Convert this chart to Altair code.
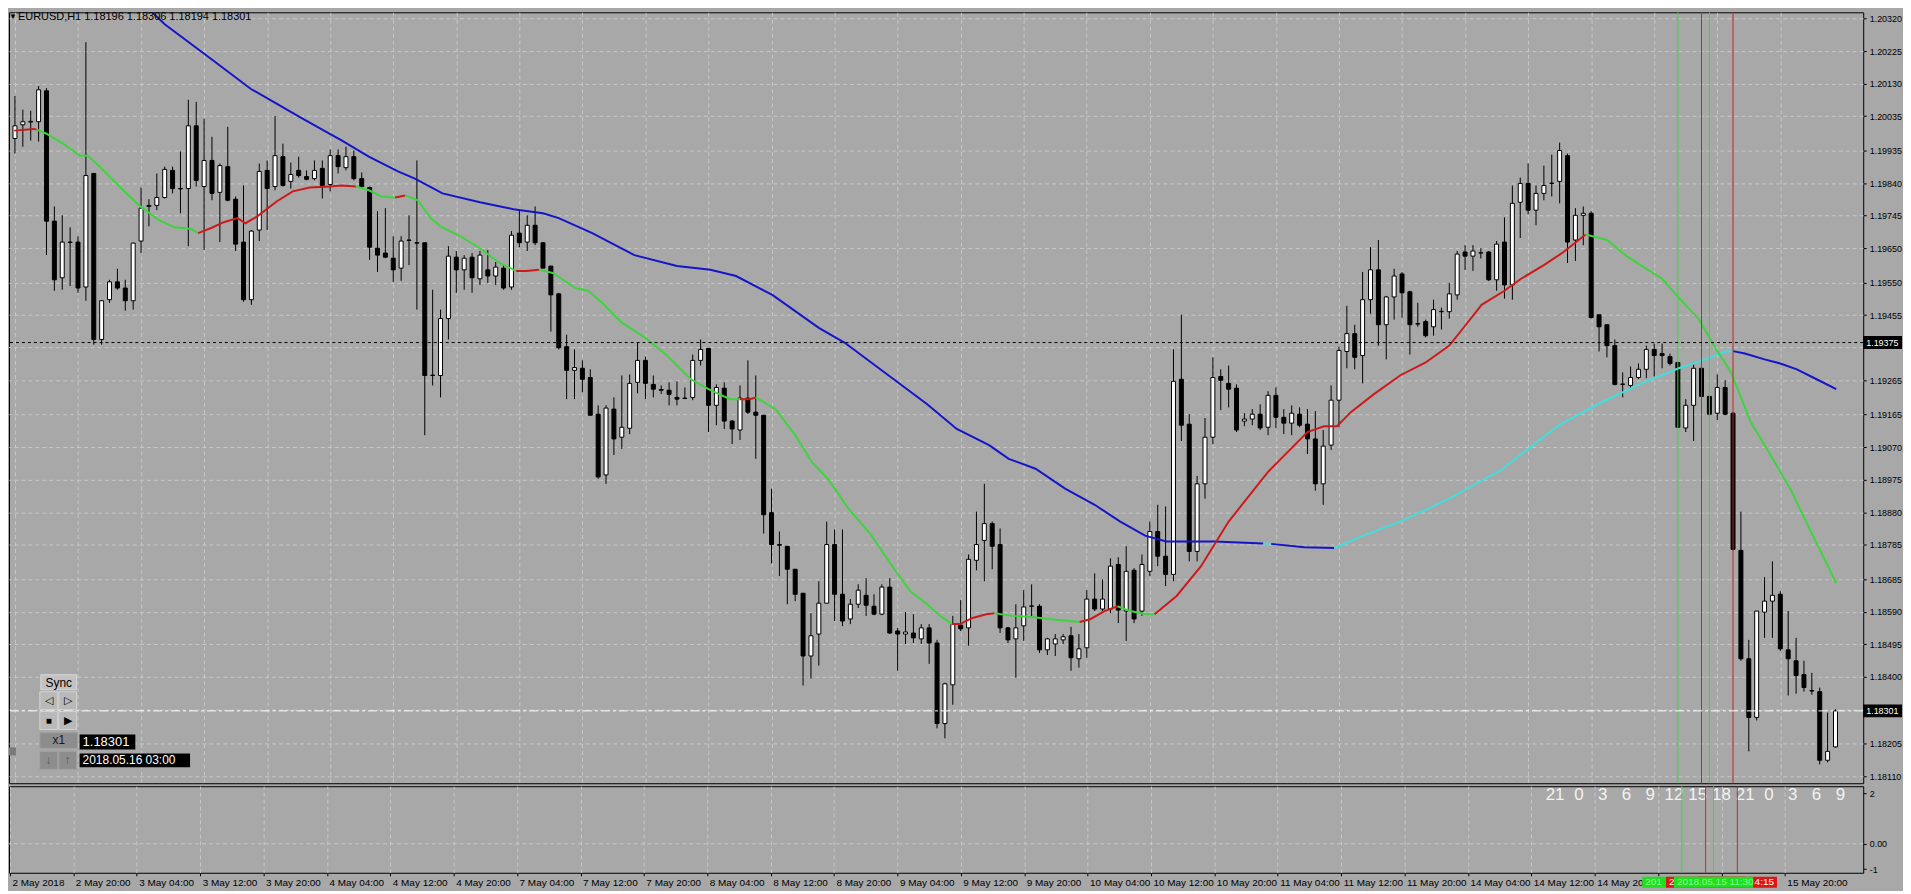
import json
import altair as alt
import pandas as pd

FONT = "Liberation Sans"
BG = "#a8a8a8"
GRID = "#c8c8c8"

# ---------------- data ----------------
opens = [
    1.19970, 1.20010, 1.20018, 1.20019, 1.20109, 1.19729, 1.19564, 1.19668, 1.19668, 1.19537,
    1.19868, 1.19384, 1.19500, 1.19552, 1.19534, 1.19497, 1.19671, 1.19772, 1.19775, 1.19798,
    1.19877, 1.19824, 1.19824, 1.20007, 1.19830, 1.19906, 1.19813, 1.19888, 1.19793, 1.19668,
    1.19500, 1.19703, 1.19877, 1.19830, 1.19917, 1.19845, 1.19877, 1.19859, 1.19853, 1.19883,
    1.19836, 1.19920, 1.19885, 1.19917, 1.19853, 1.19827, 1.19650, 1.19636, 1.19621, 1.19592,
    1.19674, 1.19666, 1.19666, 1.19279, 1.19279, 1.19445, 1.19624, 1.19587, 1.19624, 1.19561,
    1.19587, 1.19569, 1.19592, 1.19537, 1.19694, 1.19668, 1.19717, 1.19666, 1.19598, 1.19517,
    1.19363, 1.19294, 1.19300, 1.19273, 1.19166, 1.18989, 1.19181, 1.19099, 1.19125, 1.19259,
    1.19323, 1.19253, 1.19238, 1.19236, 1.19215, 1.19213, 1.19215, 1.19323, 1.19358, 1.19192,
    1.19242, 1.19146, 1.19120, 1.19213, 1.19172, 1.19163, 1.18879, 1.18786, 1.18781, 1.18714,
    1.18644, 1.18461, 1.18525, 1.18615, 1.18786, 1.18641, 1.18569, 1.18612, 1.18638, 1.18606,
    1.18583, 1.18662, 1.18534, 1.18525, 1.18528, 1.18511, 1.18543, 1.18499, 1.18264, 1.18377,
    1.18551, 1.18543, 1.18740, 1.18798, 1.18847, 1.18786, 1.18543, 1.18511, 1.18549, 1.18606,
    1.18606, 1.18479, 1.18496, 1.18508, 1.18520, 1.18453, 1.18485, 1.18627, 1.18598, 1.18598,
    1.18728, 1.18592, 1.18711, 1.18592, 1.18708, 1.18824, 1.18752, 1.18699, 1.19268, 1.19137,
    1.18766, 1.18963, 1.19099, 1.19276, 1.19256, 1.19242, 1.19146, 1.19152, 1.19166, 1.19128,
    1.19221, 1.19157, 1.19140, 1.19166, 1.19137, 1.19094, 1.18963, 1.19076, 1.19207, 1.19349,
    1.19401, 1.19337, 1.19500, 1.19587, 1.19427, 1.19508, 1.19575, 1.19523, 1.19430, 1.19436,
    1.19421, 1.19465, 1.19465, 1.19514, 1.19639, 1.19627, 1.19636, 1.19639, 1.19558, 1.19668,
    1.19543, 1.19784, 1.19839, 1.19761, 1.19810, 1.19839, 1.19845, 1.19920, 1.19674, 1.19746,
    1.19752, 1.19456, 1.19427, 1.19366, 1.19253, 1.19250, 1.19273, 1.19297, 1.19355, 1.19343,
    1.19334, 1.19317, 1.19126, 1.19192, 1.19300, 1.19218, 1.19169, 1.19244, 1.19169, 1.18769,
    1.18453, 1.18282, 1.18589, 1.18621, 1.18641, 1.18479, 1.18447, 1.18407, 1.18360, 1.18357,
    1.18157, 1.18196,
]
highs = [
    1.20094, 1.20054, 1.20051, 1.20123, 1.20117, 1.19772, 1.19746, 1.19711, 1.19685, 1.20251,
    1.19870, 1.19498, 1.19558, 1.19590, 1.19558, 1.19666, 1.19827, 1.19793, 1.19868, 1.19888,
    1.19888, 1.19932, 1.20083, 1.20077, 1.20028, 1.19975, 1.19897, 1.20004, 1.19801, 1.19833,
    1.19703, 1.19897, 1.19906, 1.20036, 1.19955, 1.19900, 1.19917, 1.19877, 1.19906, 1.19906,
    1.19938, 1.19938, 1.19946, 1.19935, 1.19871, 1.19830, 1.19758, 1.19767, 1.19685, 1.19685,
    1.19746, 1.19906, 1.19666, 1.19529, 1.19471, 1.19656, 1.19642, 1.19630, 1.19636, 1.19642,
    1.19645, 1.19610, 1.19601, 1.19700, 1.19764, 1.19746, 1.19772, 1.19668, 1.19598, 1.19520,
    1.19398, 1.19355, 1.19323, 1.19297, 1.19192, 1.19192, 1.19215, 1.19279, 1.19282, 1.19375,
    1.19334, 1.19279, 1.19250, 1.19259, 1.19262, 1.19244, 1.19340, 1.19384, 1.19358, 1.19253,
    1.19259, 1.19149, 1.19250, 1.19323, 1.19279, 1.19163, 1.18949, 1.18824, 1.18781, 1.18714,
    1.18644, 1.18586, 1.18679, 1.18853, 1.18830, 1.18830, 1.18627, 1.18670, 1.18688, 1.18641,
    1.18670, 1.18688, 1.18543, 1.18589, 1.18583, 1.18554, 1.18554, 1.18508, 1.18383, 1.18578,
    1.18624, 1.18757, 1.18882, 1.18963, 1.18853, 1.18833, 1.18546, 1.18612, 1.18653, 1.18670,
    1.18612, 1.18514, 1.18525, 1.18525, 1.18546, 1.18525, 1.18653, 1.18702, 1.18685, 1.18746,
    1.18749, 1.18781, 1.18717, 1.18757, 1.18853, 1.18902, 1.18897, 1.19355, 1.19456, 1.19166,
    1.18986, 1.19155, 1.19332, 1.19297, 1.19308, 1.19253, 1.19169, 1.19181, 1.19195, 1.19233,
    1.19244, 1.19181, 1.19192, 1.19186, 1.19181, 1.19175, 1.19120, 1.19250, 1.19363, 1.19482,
    1.19427, 1.19581, 1.19653, 1.19674, 1.19511, 1.19590, 1.19581, 1.19526, 1.19491, 1.19442,
    1.19500, 1.19477, 1.19549, 1.19642, 1.19659, 1.19659, 1.19650, 1.19642, 1.19671, 1.19740,
    1.19833, 1.19856, 1.19897, 1.19833, 1.19891, 1.19923, 1.19958, 1.19926, 1.19767, 1.19772,
    1.19758, 1.19456, 1.19427, 1.19384, 1.19288, 1.19305, 1.19314, 1.19366, 1.19372, 1.19372,
    1.19343, 1.19317, 1.19210, 1.19311, 1.19302, 1.19220, 1.19282, 1.19265, 1.19172, 1.18882,
    1.18508, 1.18592, 1.18691, 1.18737, 1.18650, 1.18592, 1.18514, 1.18447, 1.18412, 1.18369,
    1.18296, 1.18306,
]
lows = [
    1.19926, 1.19946, 1.19964, 1.19961, 1.19630, 1.19526, 1.19529, 1.19540, 1.19520, 1.19497,
    1.19369, 1.19369, 1.19491, 1.19529, 1.19468, 1.19471, 1.19636, 1.19714, 1.19761, 1.19795,
    1.19810, 1.19752, 1.19656, 1.19830, 1.19645, 1.19790, 1.19668, 1.19787, 1.19642, 1.19494,
    1.19485, 1.19671, 1.19703, 1.19819, 1.19830, 1.19824, 1.19856, 1.19848, 1.19848, 1.19795,
    1.19816, 1.19868, 1.19877, 1.19848, 1.19824, 1.19616, 1.19581, 1.19621, 1.19552, 1.19555,
    1.19601, 1.19471, 1.19105, 1.19250, 1.19215, 1.19384, 1.19520, 1.19529, 1.19520, 1.19543,
    1.19549, 1.19543, 1.19529, 1.19529, 1.19653, 1.19642, 1.19659, 1.19592, 1.19407, 1.19355,
    1.19210, 1.19210, 1.19230, 1.19163, 1.18978, 1.18963, 1.19047, 1.19065, 1.19108, 1.19227,
    1.19210, 1.19215, 1.19225, 1.19192, 1.19192, 1.19210, 1.19207, 1.19308, 1.19114, 1.19134,
    1.19123, 1.19079, 1.19091, 1.19166, 1.19036, 1.18818, 1.18731, 1.18694, 1.18612, 1.18621,
    1.18375, 1.18395, 1.18433, 1.18615, 1.18563, 1.18548, 1.18554, 1.18601, 1.18578, 1.18580,
    1.18580, 1.18525, 1.18418, 1.18496, 1.18499, 1.18496, 1.18438, 1.18250, 1.18221, 1.18319,
    1.18534, 1.18491, 1.18711, 1.18679, 1.18714, 1.18528, 1.18499, 1.18398, 1.18505, 1.18572,
    1.18470, 1.18464, 1.18461, 1.18496, 1.18418, 1.18427, 1.18456, 1.18592, 1.18592, 1.18586,
    1.18557, 1.18505, 1.18557, 1.18578, 1.18694, 1.18723, 1.18665, 1.18679, 1.19088, 1.18737,
    1.18737, 1.18920, 1.19079, 1.19178, 1.19186, 1.19114, 1.19131, 1.19134, 1.19120, 1.19105,
    1.19126, 1.19108, 1.19105, 1.19128, 1.19050, 1.18943, 1.18902, 1.19062, 1.19128, 1.19300,
    1.19297, 1.19256, 1.19459, 1.19366, 1.19326, 1.19442, 1.19448, 1.19340, 1.19421, 1.19390,
    1.19395, 1.19413, 1.19445, 1.19500, 1.19587, 1.19584, 1.19620, 1.19555, 1.19526, 1.19503,
    1.19500, 1.19680, 1.19749, 1.19717, 1.19790, 1.19801, 1.19781, 1.19607, 1.19613, 1.19659,
    1.19445, 1.19349, 1.19332, 1.19250, 1.19215, 1.19239, 1.19268, 1.19271, 1.19276, 1.19300,
    1.19308, 1.19126, 1.19114, 1.19088, 1.19212, 1.19163, 1.19149, 1.19163, 1.18769, 1.18447,
    1.18183, 1.18273, 1.18514, 1.18514, 1.18476, 1.18346, 1.18351, 1.18357, 1.18348, 1.18145,
    1.18151, 1.18194,
]
closes = [
    1.20007, 1.20019, 1.20020, 1.20112, 1.19729, 1.19558, 1.19668, 1.19667, 1.19534, 1.19862,
    1.19384, 1.19497, 1.19552, 1.19534, 1.19497, 1.19665, 1.19767, 1.19775, 1.19798, 1.19880,
    1.19824, 1.19823, 1.20007, 1.19848, 1.19906, 1.19810, 1.19891, 1.19790, 1.19662, 1.19500,
    1.19700, 1.19874, 1.19824, 1.19920, 1.19833, 1.19865, 1.19862, 1.19851, 1.19877, 1.19833,
    1.19920, 1.19888, 1.19917, 1.19853, 1.19830, 1.19653, 1.19630, 1.19624, 1.19587, 1.19671,
    1.19673, 1.19665, 1.19279, 1.19280, 1.19445, 1.19627, 1.19587, 1.19621, 1.19564, 1.19630,
    1.19569, 1.19595, 1.19534, 1.19688, 1.19666, 1.19717, 1.19666, 1.19592, 1.19514, 1.19360,
    1.19294, 1.19302, 1.19268, 1.19163, 1.18983, 1.19184, 1.19094, 1.19128, 1.19256, 1.19323,
    1.19256, 1.19239, 1.19236, 1.19224, 1.19210, 1.19212, 1.19323, 1.19355, 1.19192, 1.19244,
    1.19146, 1.19123, 1.19213, 1.19172, 1.19163, 1.18873, 1.18786, 1.18784, 1.18714, 1.18641,
    1.18461, 1.18520, 1.18615, 1.18786, 1.18641, 1.18563, 1.18612, 1.18653, 1.18609, 1.18583,
    1.18662, 1.18528, 1.18525, 1.18531, 1.18514, 1.18543, 1.18499, 1.18264, 1.18380, 1.18554,
    1.18540, 1.18743, 1.18786, 1.18847, 1.18781, 1.18543, 1.18508, 1.18543, 1.18604, 1.18607,
    1.18479, 1.18511, 1.18511, 1.18517, 1.18456, 1.18482, 1.18627, 1.18598, 1.18627, 1.18723,
    1.18595, 1.18708, 1.18569, 1.18728, 1.18824, 1.18752, 1.18699, 1.19262, 1.19134, 1.18766,
    1.18963, 1.19099, 1.19273, 1.19265, 1.19239, 1.19120, 1.19152, 1.19166, 1.19126, 1.19221,
    1.19157, 1.19140, 1.19169, 1.19134, 1.19094, 1.18963, 1.19073, 1.19207, 1.19352, 1.19401,
    1.19332, 1.19500, 1.19587, 1.19427, 1.19508, 1.19569, 1.19520, 1.19427, 1.19429, 1.19395,
    1.19471, 1.19466, 1.19517, 1.19633, 1.19627, 1.19642, 1.19637, 1.19558, 1.19662, 1.19543,
    1.19781, 1.19839, 1.19761, 1.19810, 1.19833, 1.19840, 1.19935, 1.19668, 1.19746, 1.19752,
    1.19448, 1.19421, 1.19366, 1.19253, 1.19254, 1.19273, 1.19297, 1.19355, 1.19337, 1.19337,
    1.19314, 1.19128, 1.19192, 1.19300, 1.19218, 1.19166, 1.19244, 1.19166, 1.18772, 1.18453,
    1.18282, 1.18592, 1.18621, 1.18638, 1.18482, 1.18453, 1.18404, 1.18369, 1.18359, 1.18157,
    1.18183, 1.18301,
]

# time axis: one label every 8 hourly bars (bar 0 = 2 May 2018 12:00);
# labels hidden behind the vertical-line tags are left empty
time_tick_bars = list(range(0, 232, 8))
time_tick_labels = [
    "2 May 2018", "2 May 20:00", "3 May 04:00", "3 May 12:00", "3 May 20:00",
    "4 May 04:00", "4 May 12:00", "4 May 20:00", "7 May 04:00", "7 May 12:00",
    "7 May 20:00", "8 May 04:00", "8 May 12:00", "8 May 20:00", "9 May 04:00",
    "9 May 12:00", "9 May 20:00", "10 May 04:00", "10 May 12:00", "10 May 20:00",
    "11 May 04:00", "11 May 12:00", "11 May 20:00", "14 May 04:00", "14 May 12:00",
    "14 May 20:", "", "", "15 May 20:00",
]

# price labels on the right axis (1.19360 lies under the 1.19375 marker box)
price_ticks = [
    1.20320, 1.20225, 1.20130, 1.20035, 1.19935, 1.19840, 1.19745, 1.19650,
    1.19550, 1.19455, 1.19265, 1.19165, 1.19070, 1.18975, 1.18880,
    1.18785, 1.18685, 1.18590, 1.18495, 1.18400, 1.18305, 1.18205, 1.18110,
]
hidden_grid_prices = [1.19360]

hour_bars = [195, 198, 201, 204, 207, 210, 213, 216, 219, 222, 225, 228, 231]
hour_labels = ["21", "0", "3", "6", "9", "12", "15", "18", "21", "0", "3", "6", "9"]

lower_ticks = [2, 0, -1]

# fast moving average: segments (colour, [(bar, price), ...])
GREEN = "#3fd43f"
RED = "#cc1a1a"
BLUE = "#1515c8"
CYAN = "#44dddd"
fast_segments = [
    (RED, [(-0.1, 1.19993), (2.4, 1.19998), (2.75, 1.19996)]),
    (GREEN, [(2.75, 1.19996), (4, 1.19984), (6.1, 1.19955), (8.25, 1.19920), (9.25, 1.19920),
             (10.75, 1.19888), (13.25, 1.19830), (15.75, 1.19775), (18.25, 1.19732),
             (20.25, 1.19711), (22.4, 1.19706), (23.25, 1.19694)]),
    (RED, [(23.25, 1.19694), (24.9, 1.19709), (26.5, 1.19726), (28.25, 1.19738), (29.25, 1.19723),
           (30.75, 1.19743), (33.25, 1.19787), (35.25, 1.19816), (37.4, 1.19827), (39.9, 1.19830),
           (41.5, 1.19833), (43.25, 1.19830)]),
    (GREEN, [(43.25, 1.19830), (44.9, 1.19819), (46.5, 1.19801), (48.25, 1.19798)]),
    (RED, [(48.25, 1.19798), (49.5, 1.19804)]),
    (GREEN, [(49.5, 1.19804), (51.1, 1.19790), (52.75, 1.19738), (54, 1.19714), (56.5, 1.19685),
             (59, 1.19650), (61.5, 1.19607), (63.6, 1.19584)]),
    (RED, [(63.6, 1.19584), (64.9, 1.19584), (66.5, 1.19587)]),
    (GREEN, [(66.5, 1.19587), (68.25, 1.19578), (71.1, 1.19534), (72.75, 1.19526), (74.5, 1.19491),
             (77, 1.19433), (79.9, 1.19390), (82.75, 1.19337), (85.75, 1.19268), (88.25, 1.19236),
             (90.75, 1.19210), (92, 1.19210)]),
    (RED, [(92, 1.19210), (93.25, 1.19210), (94, 1.19215)]),
    (GREEN, [(94, 1.19215), (96.1, 1.19186), (96.5, 1.19181), (99, 1.19105), (101.1, 1.19027),
             (103.25, 1.18975), (105.75, 1.18891), (108.6, 1.18815), (111.5, 1.18717),
             (113.6, 1.18650), (115.75, 1.18612), (117.4, 1.18578), (118.9, 1.18554)]),
    (RED, [(118.9, 1.18554), (119.9, 1.18554), (121.5, 1.18572), (123.25, 1.18583), (124.25, 1.18586)]),
    (GREEN, [(124.25, 1.18586), (126.5, 1.18578), (129, 1.18575), (132.4, 1.18566), (135.1, 1.18560)]),
    (RED, [(135.1, 1.18560), (136.5, 1.18569), (138.25, 1.18592), (139.9, 1.18606)]),
    (GREEN, [(139.9, 1.18606), (141.5, 1.18592), (143.6, 1.18583), (144.6, 1.18583)]),
    (RED, [(144.6, 1.18583), (147.4, 1.18636), (150.5, 1.18723), (154, 1.18853), (159, 1.18998),
           (164, 1.19114), (166.1, 1.19131), (167.75, 1.19131), (169.5, 1.19172), (172.4, 1.19224),
           (175.75, 1.19279), (179, 1.19317), (182, 1.19366), (184, 1.19424), (186.1, 1.19485),
           (189, 1.19526), (191.1, 1.19561), (194, 1.19601), (196.5, 1.19639), (199.3, 1.19690)]),
    (GREEN, [(199.3, 1.19690), (202, 1.19674), (204.5, 1.19627), (207, 1.19590), (209, 1.19561),
             (211.1, 1.19506), (213.6, 1.19445), (215.75, 1.19360), (217.75, 1.19288),
             (220.25, 1.19143), (222.75, 1.19047), (225.25, 1.18949), (227.75, 1.18830),
             (231.1, 1.18673)]),
]

# slow moving average
slow_segments = [
    (BLUE, [(16.4, 1.20361), (19, 1.20303), (24.9, 1.20202), (29.9, 1.20115), (33.25, 1.20071),
            (36.1, 1.20033), (39.9, 1.19984), (41.5, 1.19964), (44.9, 1.19917), (48.6, 1.19874),
            (50.75, 1.19853), (54.25, 1.19810), (59, 1.19784), (63.25, 1.19764), (67, 1.19752),
            (69, 1.19738), (73.25, 1.19694), (78.6, 1.19630), (84, 1.19598), (88.25, 1.19587),
            (91.5, 1.19569), (96.1, 1.19514), (102, 1.19418), (105.25, 1.19375), (111.5, 1.19268),
            (115.75, 1.19195), (119.5, 1.19123), (123.6, 1.19076), (126.1, 1.19036),
            (129.5, 1.19007), (133.25, 1.18949), (137, 1.18902), (140.25, 1.18853),
            (143.4, 1.18812), (146.1, 1.18795), (152.25, 1.18795), (158.4, 1.18789)]),
    (CYAN, [(158.4, 1.18789), (159.4, 1.18788)]),
    (BLUE, [(159.4, 1.18788), (163.6, 1.18778), (167.4, 1.18776)]),
    (CYAN, [(167.4, 1.18776), (171.1, 1.18812), (175.75, 1.18853), (182, 1.18920), (188.6, 1.19004),
            (192, 1.19065), (196.1, 1.19137), (201.1, 1.19198), (206.1, 1.19253), (211.1, 1.19300),
            (214.5, 1.19326), (217, 1.19349), (218, 1.19350)]),
    (BLUE, [(218, 1.19350), (219.5, 1.19343), (222, 1.19326), (224, 1.19314), (226.1, 1.19297),
            (228.6, 1.19268), (231.1, 1.19239)]),
]

# vertical lines (drawn in this order) and the visible part of their time tags
vline_bars = [211, 214, 218, 215]
vline_colors = ["#33dd33", "#cc2222", "#cc2222", "#33dd33"]
vline_fill = ["#1fe01f", "#e01414", "#e01414", "#1fe01f"]
vline_text = ["201", "2", "4:15", "2018.05.15 11:30"]
vline_text_color = ["#8cff8c", "white", "white", "#8cff8c"]
vline_text_side = ["left", "left", "right", "left"]

hline_price = 1.19375
bid_price = 1.18301
header = "EURUSD,H1  1.18196 1.18306 1.18194 1.18301"

# ---------------- build ----------------
N = len(opens)
candles = pd.DataFrame({"bar": list(range(N)), "open": opens, "high": highs,
                        "low": lows, "close": closes})
candles["body"] = ["white" if c >= o else "black" for o, c in zip(opens, closes)]

x_scale = alt.Scale(domain=[-0.1255, 233.887], nice=False, zero=False)
y_scale = alt.Scale(domain=[1.18090, 1.20338], nice=False, zero=False)
yl_scale = alt.Scale(domain=[-1.14, 2.27], nice=False, zero=False)

main_x_axis = alt.Axis(values=time_tick_bars, labels=False, ticks=False, domain=False,
                       grid=True, gridColor=GRID, gridDash=[4, 3], title=None)
main_y_axis = alt.Axis(orient="right", values=price_ticks, format=".5f", grid=True,
                       gridColor=GRID, gridDash=[4, 3], tickSize=3, tickColor="black",
                       labelPadding=3, labelFont=FONT, labelFontSize=9, labelColor="black",
                       domain=False, title=None, labelOverlap=False)
lower_x_axis = alt.Axis(values=time_tick_bars,
                        labelExpr=json.dumps(time_tick_labels) + "[round(datum.value / 8)]",
                        labelAlign="left", labelOffset=2, labelPadding=2, tickSize=3,
                        tickColor="black", labelFont=FONT, labelFontSize=10, labelColor="black",
                        grid=True, gridColor=GRID, gridDash=[4, 3], domain=False,
                        labelFlush=False, labelOverlap=False, labelBound=False, title=None)
lower_y_axis = alt.Axis(orient="right", values=lower_ticks,
                        labelExpr="datum.value == 0 ? '0.00' : toString(datum.value)",
                        grid=False, tickSize=3, tickColor="black", labelPadding=3,
                        labelFont=FONT, labelFontSize=9, labelColor="black", domain=False,
                        title=None, labelOverlap=False)


def X(f):
    return alt.X(f, type="quantitative", scale=x_scale, axis=main_x_axis)


def Y(f):
    return alt.Y(f, type="quantitative", scale=y_scale, axis=main_y_axis)


def XL(f):
    return alt.X(f, type="quantitative", scale=x_scale, axis=lower_x_axis)


def YL(f):
    return alt.Y(f, type="quantitative", scale=yl_scale, axis=lower_y_axis)


one = pd.DataFrame({"k": [0]})


def rect(x0, y0, x1, y1, fill, stroke=None):
    kw = dict(fill=fill)
    if stroke:
        kw.update(stroke=stroke, strokeWidth=1)
    return alt.Chart(one).mark_rect(**kw).encode(
        x=alt.value(x0), x2=alt.value(x1), y=alt.value(y0), y2=alt.value(y1))


def txt(x, y, s, color="black", size=12, align="center"):
    return alt.Chart(one).mark_text(color=color, fontSize=size, font=FONT, align=align,
                                    baseline="middle").encode(
        x=alt.value(x), y=alt.value(y), text=alt.value(s))


def seg_frame(segments, prefix):
    rows = []
    for k, (color, pts) in enumerate(segments):
        for b, p in pts:
            rows.append({"seg": f"{prefix}{k}", "color": color, "bar": b, "price": p})
    return pd.DataFrame(rows)


ma_df = pd.concat([seg_frame(slow_segments, "s"), seg_frame(fast_segments, "f")])
v_df = pd.DataFrame({"bar": vline_bars, "color": vline_colors})

extra_grid = alt.Chart(pd.DataFrame({"price": hidden_grid_prices})).mark_rule(
    color=GRID, strokeDash=[4, 3]).encode(y=Y("price"))
wicks = alt.Chart(candles).mark_rule(color="black", strokeWidth=1).encode(
    x=X("bar"), y=Y("low"), y2="high:Q")
bodies = alt.Chart(candles).mark_bar(size=4, stroke="black", strokeWidth=1).encode(
    x=X("bar"), y=Y("open"), y2="close:Q", fill=alt.Fill("body:N", scale=None))
ma_lines = alt.Chart(ma_df).mark_line(strokeWidth=2, clip=True).encode(
    x=X("bar"), y=Y("price"), detail="seg:N", color=alt.Color("color:N", scale=None),
    order="bar:Q")
vlines = alt.Chart(v_df).mark_rule(strokeWidth=1).encode(
    x=X("bar"), color=alt.Color("color:N", scale=None))
hline = alt.Chart(pd.DataFrame({"price": [hline_price]})).mark_rule(
    color="black", strokeDash=[3, 3]).encode(y=Y("price"))
bidline = alt.Chart(pd.DataFrame({"price": [bid_price]})).mark_rule(
    color="white", strokeDash=[9, 3, 3, 3]).encode(y=Y("price"))
box_df = pd.DataFrame({"price": [hline_price, bid_price]})
price_boxes = alt.Chart(box_df).mark_tick(
    color="black", thickness=13, size=39, orient="horizontal", opacity=1).encode(
    x=alt.value(1883.5), y=Y("price"))
price_box_text = alt.Chart(box_df).mark_text(
    color="white", fontSize=9, font=FONT, align="left", baseline="middle").encode(
    x=alt.value(1867), y=Y("price"), text=alt.Text("price:Q", format=".5f"))

widgets = [
    txt(0, 5, "▼", size=8, align="left"),
    txt(9, 5, header, size=11, align="left"),
    rect(0, 739, 7, 747, "#7a7a7a"),
    rect(32, 666, 68, 681, "#c2c2c2", "#d8d8d8"),
    txt(50, 674, "Sync", size=12),
    rect(31, 683, 49, 701, "#b9b9b9", "#d4d4d4"),
    rect(50, 683, 68, 701, "#b9b9b9", "#d4d4d4"),
    txt(40, 692, "◁", size=11),
    txt(59, 692, "▷", size=11),
    rect(31, 703, 49, 721, "#b9b9b9", "#d4d4d4"),
    rect(50, 703, 68, 721, "#b9b9b9", "#d4d4d4"),
    txt(40, 712, "■", size=10),
    txt(59, 712, "▶", size=11),
    rect(31, 724, 69, 740, "#8d8d8d", "#a0a0a0"),
    txt(50, 732, "x1", color="#1a1a1a", size=12),
    rect(31, 743, 49, 761, "#8d8d8d", "#a0a0a0"),
    rect(50, 743, 68, 761, "#8d8d8d", "#a0a0a0"),
    txt(40, 752, "↓", color="#5a5a5a", size=12),
    txt(59, 752, "↑", color="#5a5a5a", size=12),
    rect(71, 726, 127, 741, "black"),
    txt(74, 733.5, "1.18301", color="white", size=13, align="left"),
    rect(71, 745, 182, 759, "black"),
    txt(74, 752, "2018.05.16 03:00", color="white", size=12, align="left"),
]

main = alt.layer(extra_grid, wicks, bodies, ma_lines, vlines, hline, bidline, price_boxes,
                 price_box_text, *widgets).properties(width=1864, height=775)

# lower panel
hours_df = pd.DataFrame({"bar": hour_bars, "label": hour_labels})
zero_rule = alt.Chart(pd.DataFrame({"v": [0.0]})).mark_rule(
    color=GRID, strokeDash=[4, 3]).encode(y=YL("v"))
hours = alt.Chart(hours_df).mark_text(color="#f2f2f2", fontSize=17, font=FONT,
                                      baseline="middle").encode(
    x=XL("bar"), y=alt.value(9), text="label:N")
vlines_low = alt.Chart(v_df).mark_rule(strokeWidth=1).encode(
    x=XL("bar"), color=alt.Color("color:N", scale=None))

tag_layers = []
for b, fill, label, tcol, side in zip(vline_bars, vline_fill, vline_text,
                                      vline_text_color, vline_text_side):
    d = pd.DataFrame({"bar": [b], "label": [label]})
    base = alt.Chart(d).transform_calculate(xl="datum.bar - 5", xr="datum.bar + 5")
    tag_layers.append(base.mark_rect(fill=fill).encode(
        x=XL("xl"), x2="xr:Q", y=alt.value(91), y2=alt.value(102)))
    if side == "left":
        tag_layers.append(base.mark_text(color=tcol, fontSize=10, font=FONT, align="left",
                                         baseline="middle", dx=3).encode(
            x=XL("xl"), y=alt.value(96.5), text="label:N"))
    else:
        tag_layers.append(base.mark_text(color=tcol, fontSize=10, font=FONT, align="right",
                                         baseline="middle", dx=-3).encode(
            x=XL("xr"), y=alt.value(96.5), text="label:N"))

lower = alt.layer(zero_rule, hours, vlines_low, *tag_layers).properties(width=1864, height=87)

chart = alt.vconcat(main, lower, spacing=1).properties(
    padding=0, background=BG
).configure_view(stroke="black", strokeWidth=1)

chart.save("out.html", embed_options={"renderer": "svg", "actions": False})
